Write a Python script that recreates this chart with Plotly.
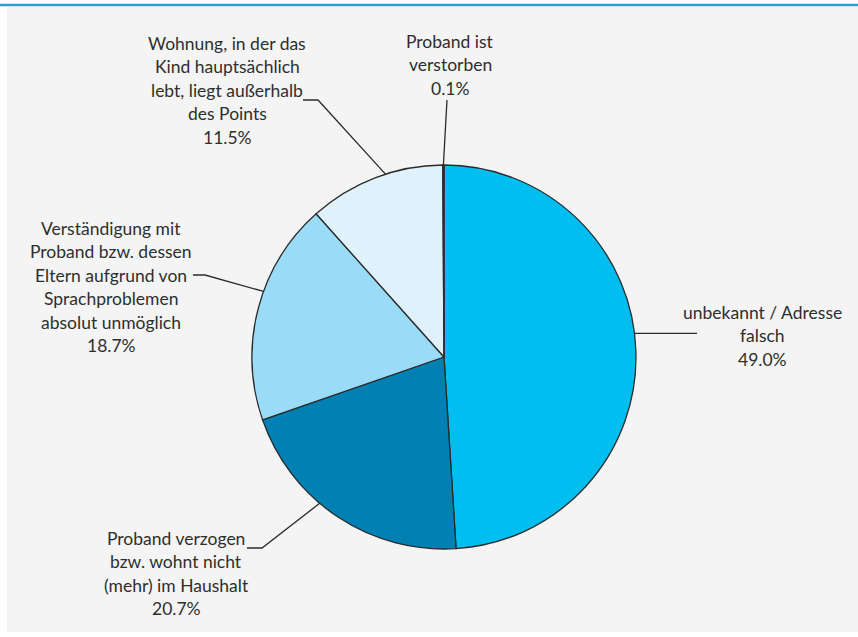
import math
import plotly.graph_objects as go

# Reasons why a contact could not be made (share in percent)
categories = [
    "unbekannt / Adresse falsch",
    "Proband verzogen bzw. wohnt nicht (mehr) im Haushalt",
    "Verständigung mit Proband bzw. dessen Eltern aufgrund von Sprachproblemen absolut unmöglich",
    "Wohnung, in der das Kind hauptsächlich lebt, liegt außerhalb des Points",
    "Proband ist verstorben",
]
values = [49.0, 20.7, 18.7, 11.5, 0.1]
label_lines = [
    ["unbekannt / Adresse", "falsch"],
    ["Proband verzogen", "bzw. wohnt nicht", "(mehr) im Haushalt"],
    ["Verständigung mit", "Proband bzw. dessen", "Eltern aufgrund von", "Sprachproblemen", "absolut unmöglich"],
    ["Wohnung, in der das", "Kind hauptsächlich", "lebt, liegt außerhalb", "des Points"],
    ["Proband ist", "verstorben"],
]
colors = ["#00bef0", "#0080b3", "#9adcf8", "#dff2fc", "#1a5f80"]

W, H = 858, 637
CX, CY, R = 444, 357, 192          # pie centre and radius in pixels
LINE_H = 23.5                       # label line spacing in pixels
TEXT_COLOR = "#2e2e2e"
FONT = "Lato"

# label block placement: centre x, first line y
label_pos = [(762, 312), (176, 538), (111, 228), (227, 43), (450, 41)]
# where the leader leaves the slice (fraction of the slice's angle)
anchor_frac = [0.47, 0.59, 0.58, 0.58, 0.5]
# leader polyline after the anchor point
leader_tail = [
    [(697, None)],
    [(262, 548), (247, 548)],
    [(205, 275), (193, 275)],
    [(318, 100), (303, 100)],
    [(447, 100)],
]

fig = go.Figure()

# overlay axis in pixel units covering the whole page
fig.add_trace(go.Scatter(x=[0, W], y=[0, H], mode="markers",
                         marker=dict(opacity=0), hoverinfo="skip", showlegend=False))

fig.add_trace(go.Pie(
    labels=categories, values=values, sort=False, direction="clockwise", rotation=0,
    marker=dict(colors=colors, line=dict(color="#2b2b2b", width=1.3)),
    textinfo="none", hoverinfo="label+percent", showlegend=False,
    domain=dict(x=[(CX - R) / W, (CX + R) / W], y=[(H - CY - R) / H, (H - CY + R) / H]),
))

shapes = [
    # panel background
    dict(type="rect", xref="x", yref="y", x0=7, x1=W, y0=7, y1=632,
         fillcolor="#f4f4f4", line=dict(width=0), layer="below"),
    # top rule
    dict(type="line", xref="x", yref="y", x0=0, x1=W, y0=5, y1=5,
         line=dict(color="#2f9bcc", width=2.5), layer="below"),
]

annotations = []
total = sum(values)
start = 0.0
for i, v in enumerate(values):
    span = v / total * 360.0
    ang = math.radians(start + anchor_frac[i] * span)
    ax = CX + R * math.sin(ang)
    ay = CY - R * math.cos(ang)
    pts = [(ax, ay)]
    for (px, py) in leader_tail[i]:
        pts.append((px, ay if py is None else py))
    path = "M " + " L ".join(f"{px:.2f},{py:.2f}" for px, py in pts)
    shapes.append(dict(type="path", xref="x", yref="y", path=path,
                       line=dict(color="#2b2b2b", width=1.3)))
    start += span

    lx, ly = label_pos[i]
    lines = label_lines[i] + [f"{v:.1f}%"]
    for k, txt in enumerate(lines):
        annotations.append(dict(
            x=lx, y=ly + k * LINE_H, xref="x", yref="y", text=txt, showarrow=False,
            xanchor="center", yanchor="middle",
            font=dict(family=FONT, size=17.5, color=TEXT_COLOR),
        ))

fig.update_layout(
    width=W, height=H,
    margin=dict(l=0, r=0, t=0, b=0),
    paper_bgcolor="white", plot_bgcolor="rgba(0,0,0,0)",
    xaxis=dict(range=[0, W], domain=[0, 1], visible=False, fixedrange=True),
    yaxis=dict(range=[H, 0], domain=[0, 1], visible=False, fixedrange=True),
    shapes=shapes, annotations=annotations,
)

fig.write_html("out.html")
